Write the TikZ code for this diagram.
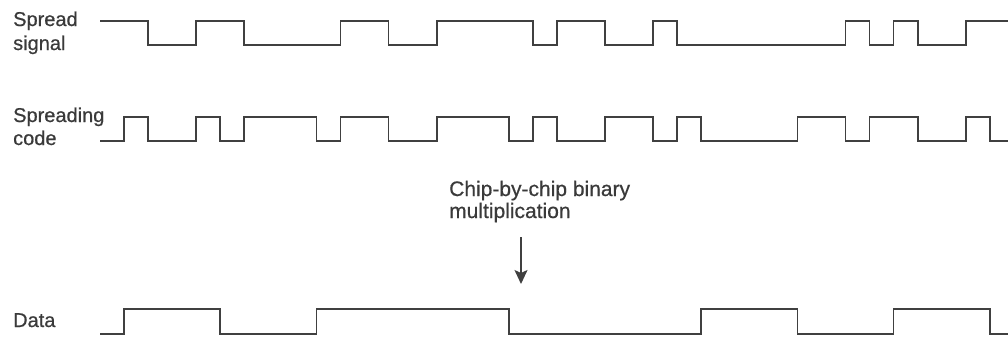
\documentclass[tikz,border=0pt]{standalone}
\usepackage{fontspec}
\setmainfont{Liberation Sans}[FakeBold=0.6]
\usetikzlibrary{arrows.meta}
\definecolor{ink}{HTML}{3A3A3A}
\definecolor{wave}{HTML}{404040}
\tikzset{
  lbl/.style={anchor=base west, inner sep=0pt, text=ink, font=\fontsize{20}{24}\selectfont},
  note/.style={anchor=base west, inner sep=0pt, text=ink, font=\fontsize{21}{22}\selectfont},
  sig/.style={draw=wave, line width=1.7pt, line join=miter},
  arr/.style={draw=wave, line width=1.7pt, -{Stealth[length=14pt,width=13pt,inset=3pt]}}
}
\begin{document}
\begin{tikzpicture}[x=1pt,y=-1pt]
\useasboundingbox (0,0) rectangle (1008,338);
\def\chx#1{124+24.05*#1}
% labels
\node[lbl] (spreadA) at (13,26) {Spread};
\node[lbl] (spreadB) at (13,50) {signal};
\node[lbl] (codeA) at (13,122) {Spreading};
\node[lbl] (codeB) at (13,145) {code};
\node[lbl] (data) at (13,327) {Data};
\node[note] (mulA) at (449,196) {Chip-by-chip binary};
\node[note] (mulB) at (449,218) {multiplication};
% arrow
\coordinate (arrS) at (521,237);
\coordinate (arrE) at (521,284);
\draw[arr] (arrS) -- (arrE);
% spread signal
\draw[sig] (100,21) -| ({\chx{1}},45) -| ({\chx{3}},21) -| ({\chx{5}},45) -| ({\chx{9}},21)
  -| ({\chx{11}},45) -| ({\chx{13}},21) -| ({\chx{17}},45) -| ({\chx{18}},21) -| ({\chx{20}},45)
  -| ({\chx{22}},21) -| ({\chx{23}},45) -| ({\chx{30}},21) -| ({\chx{31}},45) -| ({\chx{32}},21)
  -| ({\chx{33}},45) -| ({\chx{35}},21) -- (1008,21);
% spreading code
\draw[sig] (100,141) -| ({\chx{0}},117) -| ({\chx{1}},141) -| ({\chx{3}},117) -| ({\chx{4}},141)
  -| ({\chx{5}},117) -| ({\chx{8}},141) -| ({\chx{9}},117) -| ({\chx{11}},141) -| ({\chx{13}},117)
  -| ({\chx{16}},141) -| ({\chx{17}},117) -| ({\chx{18}},141) -| ({\chx{20}},117) -| ({\chx{22}},141)
  -| ({\chx{23}},117) -| ({\chx{24}},141) -| ({\chx{28}},117) -| ({\chx{30}},141) -| ({\chx{31}},117)
  -| ({\chx{33}},141) -| ({\chx{35}},117) -| ({\chx{36}},141) -- (1008,141);
% data
\draw[sig] (100,334) -| ({\chx{0}},309) -| ({\chx{4}},334) -| ({\chx{8}},309) -| ({\chx{16}},334)
  -| ({\chx{24}},309) -| ({\chx{28}},334) -| ({\chx{32}},309) -| ({\chx{36}},334) -- (1008,334);
\end{tikzpicture}
\end{document}
